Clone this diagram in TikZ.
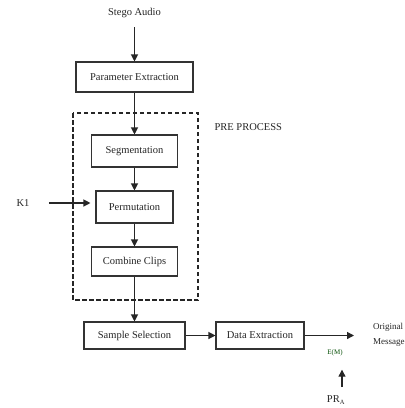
\documentclass[tikz,border=0pt]{standalone}
\usepackage{fontspec}
\setmainfont{Liberation Serif}
\usetikzlibrary{arrows.meta}
\begin{document}
\begin{tikzpicture}[x=1pt,y=-1pt,
  every node/.style={font=\fontsize{10.5}{12}\selectfont, text=black!85},
  blk/.style={draw=black!80, line width=1.1pt, inner sep=0pt, minimum height=30pt},
  arr/.style={draw=black!85, line width=1.2pt, -{Triangle[length=7pt,width=7pt]}},
  dbox/.style={draw=black!85, line width=1.6pt, dash pattern=on 4.5pt off 2.5pt}]
\useasboundingbox (0,0) rectangle (405,408);
\fill[white] (0,0) rectangle (405,408);
\node (in) at (134.5,13) {Stego Audio};
\node[blk, minimum width=117pt, minimum height=30pt] (pe) at (134.5,77) {Parameter Extraction};
\draw[dbox] (73,113) rectangle (198,300);
\node[anchor=west] (pp) at (211,127) {PRE PROCESS};
\node[blk, minimum width=86pt, minimum height=32pt] (seg) at (134.5,151) {Segmentation};
\node[blk, minimum width=77pt, minimum height=32pt] (perm) at (134.5,207) {Permutation};
\node (k1) at (23,203) {K1};
\node[blk, minimum width=86pt, minimum height=29pt] (cc) at (134.5,261.5) {Combine Clips};
\node[blk, minimum width=101pt, minimum height=27pt] (ss) at (134.5,335.5) {Sample Selection};
\node[blk, minimum width=88pt, minimum height=27pt] (de) at (260,335.5) {Data Extraction};
\coordinate (out) at (354,335.5);
\node[anchor=west, align=left, inner sep=0pt, font=\fontsize{9}{15}\selectfont] (om) at (373,334.5) {Original\\Message};
\node[font=\fontsize{7}{8}\selectfont, text=black!70!green] (em) at (335,353) {E(M)};
\node (pra) at (336,400) {PR\textsubscript{\fontsize{6.5}{7}\selectfont A}};
\draw[arr] (in.south) ++(0,6) -- (pe.north);
\draw[arr] (pe) -- (seg);
\draw[arr] (seg) -- (perm);
\draw[arr] (k1.east) ++(16,0) -- ([xshift=-5pt]perm.west |- k1.east);
\draw[arr] (perm) -- (cc);
\draw[arr] (cc) -- (ss);
\draw[arr] (ss) -- (de);
\draw[arr] (de) -- (out);
\draw[arr] ([shift={(6,-5)}]pra.north) -- ([shift={(7,10)}]em.south);
\end{tikzpicture}
\end{document}
